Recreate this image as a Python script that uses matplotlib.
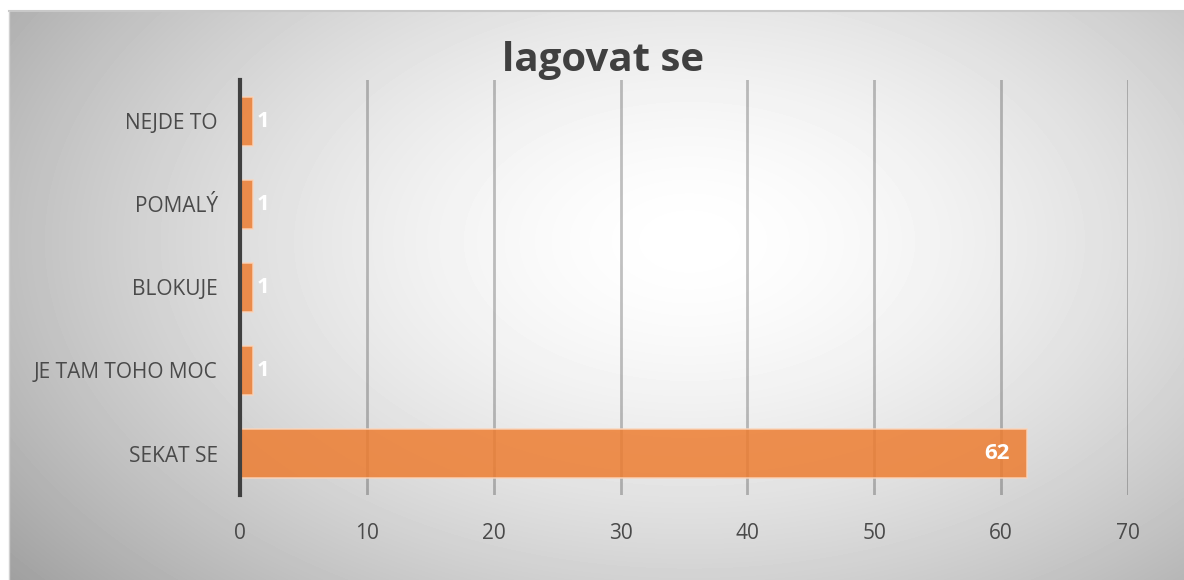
import numpy as np
import matplotlib.pyplot as plt

categories = ["SEKAT SE", "JE TAM TOHO MOC", "BLOKUJE", "POMALÝ", "NEJDE TO"]
values = [62, 1, 1, 1, 1]
title = "lagovat se"

W, H = 1184, 580
fig = plt.figure(figsize=(W / 100, H / 100), dpi=100)
fig.patch.set_facecolor("white")

# radial gradient panel behind the chart
bg = fig.add_axes([9 / W, 0, 1 - 9 / W, 1 - 11 / H])
yy, xx = np.mgrid[0:569, 0:1175]
d = np.sqrt(((xx - 680) / 760.0) ** 2 + ((yy - 230) / 470.0) ** 2)
shade = 1.0 - 0.30 * np.clip(d, 0, 1.2) ** 1.6
bg.imshow(shade, cmap="gray", vmin=0, vmax=1, aspect="auto",
          interpolation="bilinear")
bg.set_axis_off()
fig.add_artist(plt.Line2D([9 / W, 1], [1 - 11 / H, 1 - 11 / H],
                          color="#c8c8c8", lw=1.5))
fig.add_artist(plt.Line2D([9 / W, 9 / W], [0, 1 - 11 / H],
                          color="#d0d0d0", lw=1.0))

ax = fig.add_axes([240 / W, 1 - 495 / H, (1128 - 240) / W, (495 - 80) / H])
ax.patch.set_alpha(0)
y = np.arange(len(categories))
bars = ax.barh(y, values, height=0.6, color="#ED7D31", alpha=0.85,
               edgecolor="#fbd5bb", linewidth=1.2, zorder=3)

ax.set_xlim(0, 70)
ax.set_ylim(-0.5, len(categories) - 0.5)
ax.set_xticks(range(0, 71, 10))
ax.set_yticks(y)
ax.set_yticklabels(categories)
ax.grid(axis="x", color="black", alpha=0.24, lw=2, zorder=1)
ax.tick_params(length=0, labelsize=15, labelcolor="#4a4a4a")
ax.tick_params(axis="y", pad=16)
ax.tick_params(axis="x", pad=20)
for lbl in ax.get_xticklabels() + ax.get_yticklabels():
    lbl.set_fontfamily("Open Sans")
for s in ["top", "right", "bottom"]:
    ax.spines[s].set_visible(False)
ax.spines["left"].set_color("#404040")
ax.spines["left"].set_linewidth(3)
ax.spines["left"].set_zorder(4)

for yi, v in zip(y, values):
    if v > 5:
        ax.annotate(str(v), (v, yi), xytext=(-12, 0), textcoords="offset points",
                    ha="right", va="center", color="white", fontsize=16,
                    fontweight="bold", fontfamily="Open Sans", zorder=5)
    else:
        ax.annotate(str(v), (v, yi), xytext=(3, 0), textcoords="offset points",
                    ha="left", va="center", color="white", fontsize=16,
                    fontweight="bold", fontfamily="Open Sans", zorder=5)

fig.text(603 / W, 1 - 60 / H, title, ha="center", va="center", fontsize=29,
         fontweight="bold", color="#404040", fontfamily="Open Sans")

fig.savefig("out.png", dpi=100)
